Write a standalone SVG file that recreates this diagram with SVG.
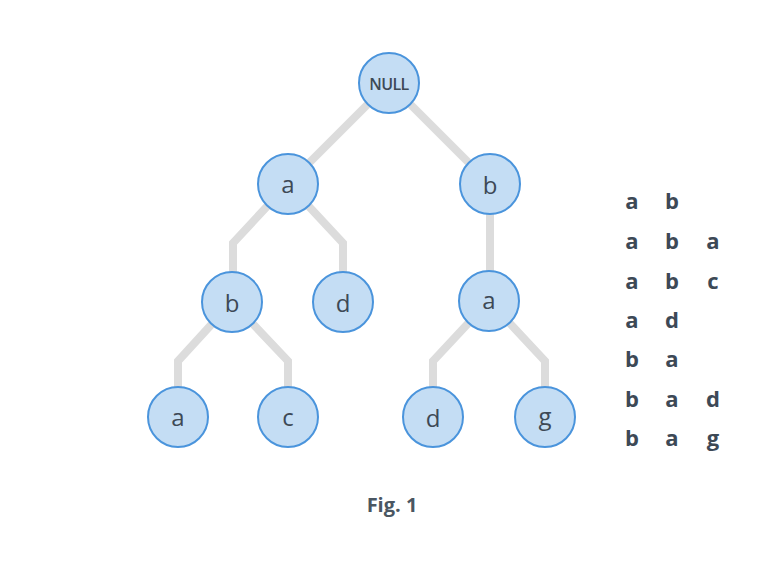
<svg xmlns="http://www.w3.org/2000/svg" width="780" height="570" viewBox="0 0 780 570">
<style>
.edge{fill:none;stroke:#dcdcdc;stroke-width:8;stroke-linejoin:miter}
.node circle{fill:#c4ddf4;stroke:#4a94dc;stroke-width:2}
.node text{font-family:"Open Sans","Liberation Sans",sans-serif;font-size:24px;fill:#3d4956;text-anchor:middle;dominant-baseline:central}
.node text.small{font-size:16px;font-weight:600;letter-spacing:-0.6px}
.list text{font-family:"Open Sans","Liberation Sans",sans-serif;font-size:22px;font-weight:bold;fill:#3d4956;text-anchor:middle;dominant-baseline:central}
.cap{font-family:"Open Sans","Liberation Sans",sans-serif;font-size:20px;font-weight:bold;fill:#4a5662;text-anchor:middle}
</style>
<rect width="780" height="570" fill="#ffffff"/>
<g id="connectors">
<path class="edge" d="M389,83 L288,184"/>
<path class="edge" d="M389,83 L490,184"/>
<path class="edge" d="M288,184 L233,243 L233,302"/>
<path class="edge" d="M288,184 L343,243 L343,302"/>
<path class="edge" d="M490,184 L490,301"/>
<path class="edge" d="M232,302 L178,361 L178,417"/>
<path class="edge" d="M232,302 L288,361 L288,417"/>
<path class="edge" d="M489,301 L433,361 L433,417"/>
<path class="edge" d="M489,301 L545,361 L545,417"/>
</g>
<g id="n-null" class="node"><circle cx="389" cy="83" r="30"/><text class="small" x="389" y="84">NULL</text></g>
<g id="n-a1" class="node"><circle cx="288" cy="184" r="30"/><text x="288" y="183">a</text></g>
<g id="n-b1" class="node"><circle cx="490" cy="184" r="30"/><text x="490" y="184">b</text></g>
<g id="n-ab" class="node"><circle cx="232" cy="302" r="30"/><text x="232" y="302">b</text></g>
<g id="n-ad" class="node"><circle cx="343" cy="302" r="30"/><text x="343" y="302">d</text></g>
<g id="n-ba" class="node"><circle cx="489" cy="301" r="30"/><text x="489" y="299">a</text></g>
<g id="n-aba" class="node"><circle cx="178" cy="417" r="30"/><text x="178" y="416">a</text></g>
<g id="n-abc" class="node"><circle cx="288" cy="417" r="30"/><text x="288" y="416">c</text></g>
<g id="n-bad" class="node"><circle cx="433" cy="417" r="30"/><text x="433" y="417">d</text></g>
<g id="n-bag" class="node"><circle cx="545" cy="417" r="30"/><text x="545" y="415">g</text></g>
<g id="list" class="list">
<text x="632" y="200">a</text><text x="672" y="200">b</text>
<text x="632" y="240">a</text><text x="672" y="240">b</text><text x="713" y="240">a</text>
<text x="632" y="280">a</text><text x="672" y="280">b</text><text x="713" y="280">c</text>
<text x="632" y="319">a</text><text x="672" y="319">d</text>
<text x="632" y="358">b</text><text x="672" y="358">a</text>
<text x="632" y="398">b</text><text x="672" y="398">a</text><text x="713" y="398">d</text>
<text x="632" y="437">b</text><text x="672" y="437">a</text><text x="713" y="437">g</text>
</g>
<text class="cap" x="392" y="512">Fig. 1</text>
</svg>
